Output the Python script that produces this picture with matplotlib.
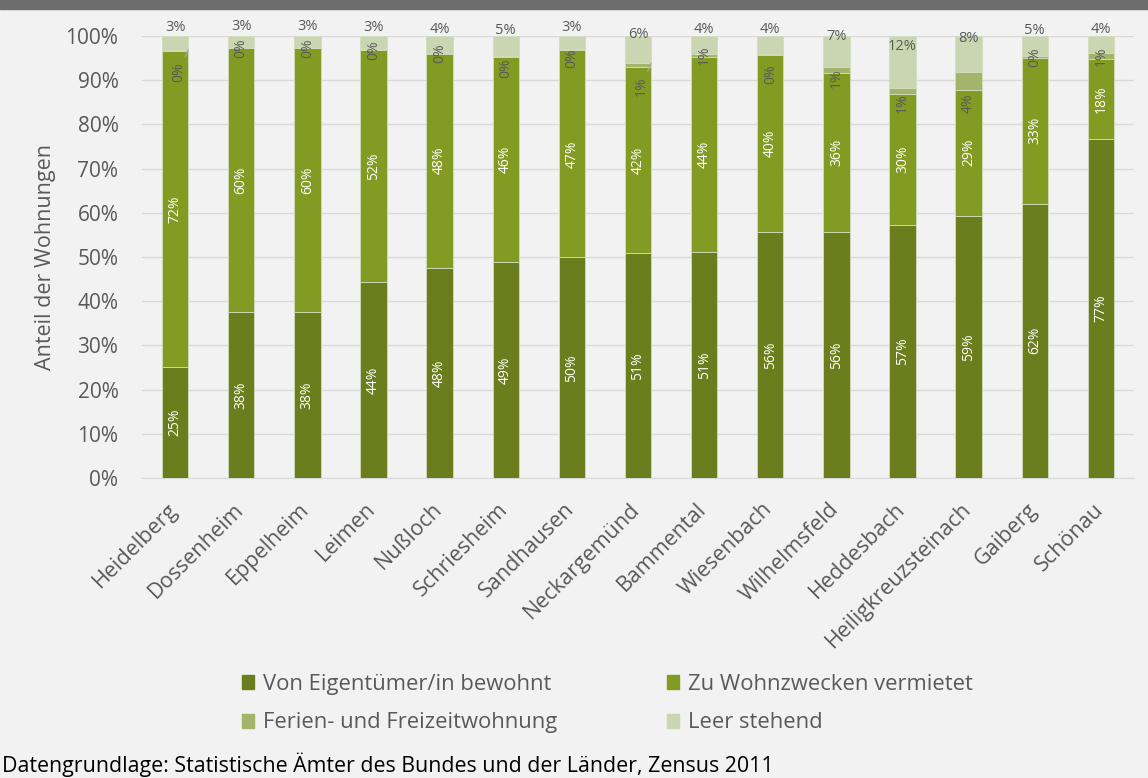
import numpy as np
import matplotlib.pyplot as plt
import matplotlib.patches as mpatches
import matplotlib.transforms as mtransforms

plt.rcParams['font.family'] = ['Open Sans', 'DejaVu Sans']

# ── Daten: Anteil der Wohnungen nach Nutzung (Zensus 2011), in % ─────────
gemeinden = ['Heidelberg', 'Dossenheim', 'Eppelheim', 'Leimen', 'Nußloch',
             'Schriesheim', 'Sandhausen', 'Neckargemünd', 'Bammental',
             'Wiesenbach', 'Wilhelmsfeld', 'Heddesbach', 'Heiligkreuzsteinach',
             'Gaiberg', 'Schönau']
eigentuemer = [25.1, 37.6, 37.6, 44.4, 47.6, 48.9, 49.9, 50.8, 51.2,
               55.6, 55.7, 57.3, 59.3, 62.1, 76.7]
vermietet = [71.6, 59.6, 59.6, 52.4, 48.4, 46.3, 46.9, 42.2, 44.1,
             40.1, 36.0, 29.6, 28.6, 33.0, 18.1]
ferien = [0.2, 0.1, 0.1, 0.2, 0.2, 0.2, 0.2, 0.9, 0.6,
          0.3, 1.3, 1.3, 4.0, 0.3, 1.4]
leer = [3.1, 2.7, 2.7, 3.0, 3.8, 4.6, 3.0, 6.1, 4.1,
        4.0, 7.0, 11.8, 8.1, 4.6, 3.8]

serien = ['Von Eigentümer/in bewohnt', 'Zu Wohnzwecken vermietet',
          'Ferien- und Freizeitwohnung', 'Leer stehend']
farben = ['#6b7d1c', '#839b23', '#a4b56b', '#c9d6b1']

# Verschiebung der Ferienwohnungs-Beschriftungen (pt, negativ = nach unten)
ferien_offset = [-16, 0, 0, 0, 0, -8, -6, -17, 0, -14, -6, -9, -16, 0, 0]
ferien_linie = [True, False, False, False, False, False, False, True,
                False, False, False, False, False, False, False]

grau = '#595959'
bg = '#f2f2f2'

fig = plt.figure(figsize=(11.48, 7.78), dpi=100)
fig.patch.set_facecolor(bg)
ax = fig.add_axes([0.1237, 0.3856, 0.8641, 0.5681])
ax.set_facecolor(bg)

# Kopfbalken
fig.patches.append(mpatches.Rectangle((0, 0.9885), 1, 0.0115, transform=fig.transFigure,
                                      color='#6d6d6d', zorder=0))

x = np.arange(len(gemeinden))
breite = 0.40
unten = np.zeros(len(gemeinden))
balken = []
for werte, farbe, name in zip([eigentuemer, vermietet, ferien, leer], farben, serien):
    ax.bar(x, werte, breite, bottom=unten, color=farbe, label=name,
           edgecolor='#d3dcbc', linewidth=0.6, zorder=3)
    balken.append((np.array(werte), unten.copy()))
    unten = unten + np.array(werte)

lsize = 10

# Beschriftungen: Eigentümer und vermietet (weiß, gedreht, mittig)
for werte, basis in balken[:2]:
    for i, (v, u) in enumerate(zip(werte, basis)):
        ax.text(i, u + v / 2, f'{v:.0f}%', rotation=90, ha='center', va='center',
                color='white', fontsize=lsize, zorder=5)

# Ferienwohnungen (grau, gedreht), teils mit Führungslinie
werte, basis = balken[2]
for i, (v, u) in enumerate(zip(werte, basis)):
    if ferien_linie[i]:
        ax.annotate(f'{v:.0f}%', xy=(i + breite / 2, u + v), xytext=(-7, ferien_offset[i]),
                    textcoords='offset points', rotation=90, ha='center', va='center',
                    color=grau, fontsize=lsize, zorder=5,
                    arrowprops=dict(arrowstyle='-', color='#a6a6a6', lw=0.9,
                                    shrinkA=2, shrinkB=0))
    else:
        ax.annotate(f'{v:.0f}%', xy=(i, u + v / 2), xytext=(0, ferien_offset[i]),
                    textcoords='offset points', rotation=90, ha='center', va='center',
                    color=grau, fontsize=lsize, zorder=5)

# Leer stehend (grau, waagerecht, oberhalb)
werte, basis = balken[3]
for i, (v, u) in enumerate(zip(werte, basis)):
    ax.annotate(f'{v:.0f}%', xy=(i, u + v / 2), xytext=(0, 11),
                textcoords='offset points', ha='center', va='center',
                color=grau, fontsize=lsize + 0.5, zorder=5)

ax.set_xlim(-0.5, len(gemeinden) - 0.5)
ax.set_ylim(0, 100)
ax.set_yticks(np.arange(0, 101, 10))
ax.set_yticklabels([f'{t}%' for t in range(0, 101, 10)])
ax.set_xticks(x)
ax.set_xticklabels(gemeinden, rotation=45, ha='right', rotation_mode='anchor')
ax.tick_params(axis='both', length=0, colors=grau, labelsize=15)
ax.tick_params(axis='x', labelsize=15.5, pad=15)
ax.tick_params(axis='y', pad=17)
versatz = mtransforms.ScaledTranslation(-6 / 72, 0, fig.dpi_scale_trans)
for lbl in ax.get_xticklabels():
    lbl.set_transform(lbl.get_transform() + versatz)
ax.grid(axis='y', color='#d9d9d9', linewidth=1, zorder=0)
for s in ['top', 'right', 'left']:
    ax.spines[s].set_visible(False)
ax.spines['bottom'].set_color('#d9d9d9')
ax.set_ylabel('Anteil der Wohnungen', fontsize=15.5, color=grau, labelpad=7)

# Legende: zwei Spalten
handles = [mpatches.Patch(color=c, label=n) for c, n in zip(farben, serien)]
reihenfolge = [0, 2, 1, 3]
fig.legend([handles[k] for k in reihenfolge], [serien[k] for k in reihenfolge],
           ncol=2, loc='center', bbox_to_anchor=(0.529, 0.0955), frameon=False,
           fontsize=15.8, labelcolor=grau, handlelength=0.55, handleheight=0.6,
           handletextpad=0.4, columnspacing=5.0, labelspacing=0.8)

fig.text(0.002, 0.017, 'Datengrundlage: Statistische Ämter des Bundes und der Länder, Zensus 2011',
         fontsize=15.4, color='black', ha='left', va='center')

fig.savefig('out.png', dpi=100, facecolor=bg)
